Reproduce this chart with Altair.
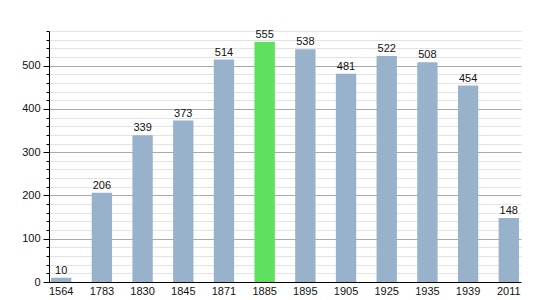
import altair as alt
import pandas as pd

years = ["1564", "1783", "1830", "1845", "1871", "1885", "1895", "1905", "1925", "1935", "1939", "2011"]
population = [10, 206, 339, 373, 514, 555, 538, 481, 522, 508, 454, 148]
highlight = ["no", "no", "no", "no", "no", "yes", "no", "no", "no", "no", "no", "no"]

df = pd.DataFrame({"year": years, "pop": population, "hl": highlight})

FONT = "Liberation Sans"

x = alt.X("year:N", sort=years, title=None,
          scale=alt.Scale(paddingInner=0.5, paddingOuter=0.05),
          axis=alt.Axis(labelAngle=0, ticks=False, domainColor="#000", labelFont=FONT,
                        labelFontSize=11, labelColor="#111", labelPadding=3, grid=False))
y = alt.Y("pop:Q", title=None,
          scale=alt.Scale(domain=[0, 580], nice=False),
          axis=alt.Axis(values=list(range(0, 581, 20)),
                        labelExpr="datum.value % 100 === 0 ? datum.label : ''",
                        gridColor=alt.expr("datum.value % 100 === 0 ? '#aaaaaa' : '#e3e3e3'"),
                        tickSize=alt.expr("datum.value % 100 === 0 ? 6 : 3"),
                        tickColor="#000", domainColor="#000", labelFont=FONT,
                        labelFontSize=11, labelColor="#111", labelPadding=3))

base = alt.Chart(df).encode(x=x, y=y)
bars = base.mark_bar().encode(
    color=alt.Color("hl:N", scale=alt.Scale(domain=["no", "yes"], range=["#98b2cc", "#5fe05f"]), legend=None),
)
labels = base.mark_text(dy=-7, font=FONT, fontSize=11, color="#111").encode(text="pop:Q")

chart = (bars + labels).properties(
    width=472, height=251,
    autosize=alt.AutoSizeParams(type="none"),
    padding={"left": 49, "top": 31, "right": 29, "bottom": 18},
).configure_view(stroke=None)

chart.save("out.html", embed_options={"renderer": "svg", "actions": False})
